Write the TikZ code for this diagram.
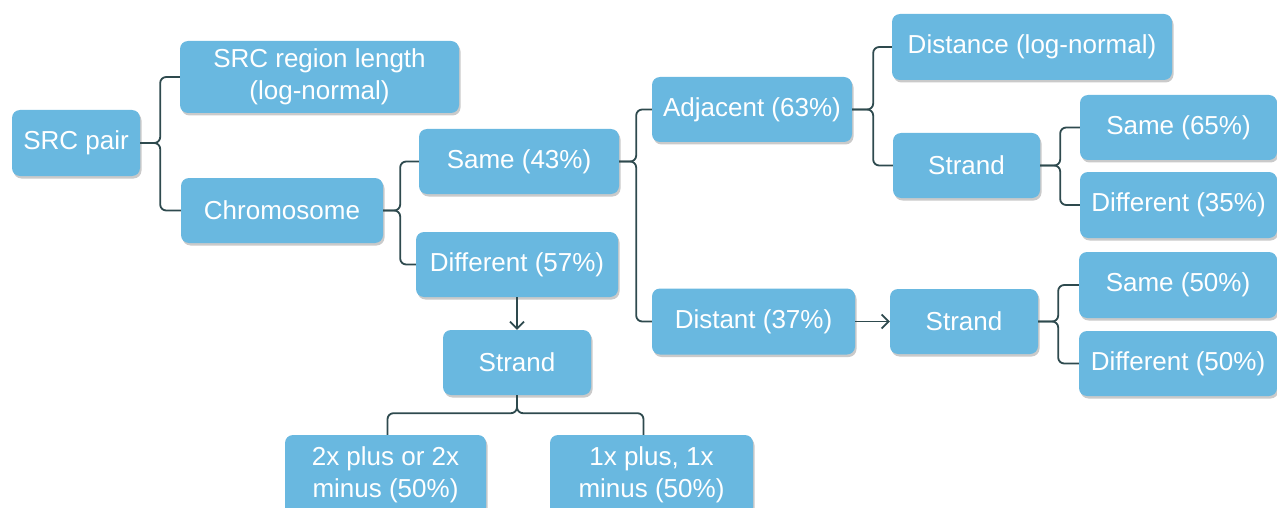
\documentclass[tikz,border=0pt]{standalone}
\usepackage{fontspec}
\setmainfont{Liberation Sans}
\definecolor{BoxBlue}{HTML}{69B8E0}
\definecolor{LineSlate}{HTML}{2E4A4E}
\usepackage{tikz}
\usetikzlibrary{arrows.meta,positioning,shadows}

\begin{document}
\begin{tikzpicture}[x=1pt,y=-1pt,
    box/.style={draw=none,fill=BoxBlue,rounded corners=8pt,text=white,
      align=center,inner sep=0pt,
      font=\fontsize{26}{32}\selectfont,
      drop shadow={shadow xshift=1.5pt,shadow yshift=-2.5pt,opacity=0.35,fill=black!60}},
    branch/.style={draw=LineSlate,line width=1.8pt,rounded corners=6pt},
    link/.style={draw=LineSlate,line width=1.8pt,-{Straight Barb[length=7pt,width=14pt]}}]
  \useasboundingbox (0,0) rectangle (1277,508);
  \clip (0,0) rectangle (1277,508);

  % left part
  \node[box,minimum width=128pt,minimum height=66pt] (src) at (76,143) {SRC pair};
  \node[box,minimum width=279pt,minimum height=72pt] (len) at (319.5,77) {SRC region length\\(log-normal)};
  \node[box,minimum width=202pt,minimum height=65pt] (chrom) at (282,210.5) {Chromosome};
  \node[box,minimum width=200pt,minimum height=65pt] (same) at (519,161.5) {Same (43\%)};
  \node[box,minimum width=202pt,minimum height=65pt] (diff) at (517,264.5) {Different (57\%)};
  \node[box,minimum width=148pt,minimum height=65pt] (strandA) at (517,362.5) {Strand};
  \node[box,minimum width=201pt,minimum height=80pt] (plustwo) at (385.5,475) {2x plus or 2x\\minus (50\%)};
  \node[box,minimum width=203pt,minimum height=80pt] (plusone) at (651.5,475) {1x plus, 1x\\minus (50\%)};

  % same chromosome
  \node[box,minimum width=200pt,minimum height=65pt] (adj) at (752,109.5) {Adjacent (63\%)};
  \node[box,minimum width=203pt,minimum height=66pt] (dist) at (753.5,321.5) {Distant (37\%)};
  \node[box,minimum width=280pt,minimum height=66pt] (distance) at (1032,47) {Distance (log-normal)};
  \node[box,minimum width=147pt,minimum height=65pt] (strandB) at (966.5,165.5) {Strand};
  \node[box,minimum width=148pt,minimum height=65pt] (strandC) at (964,321.5) {Strand};
  \node[box,minimum width=197pt,minimum height=65pt] (samesix) at (1178.5,127.5) {Same (65\%)};
  \node[box,minimum width=197pt,minimum height=66pt] (diffsix) at (1178.5,205) {Different (35\%)};
  \node[box,minimum width=198pt,minimum height=66pt] (samefive) at (1178,285) {Same (50\%)};
  \node[box,minimum width=198pt,minimum height=65pt] (difffive) at (1178,363.5) {Different (50\%)};

  % brace junctions
  \coordinate (jsrc) at ([xshift=20pt]src.east);
  \coordinate (jchrom) at ([xshift=17pt]chrom.east);
  \coordinate (jsame) at ([xshift=17pt]same.east);
  \coordinate (jadj) at ([xshift=21pt]adj.east);
  \coordinate (jstrB) at ([xshift=20pt]strandB.east);
  \coordinate (jstrC) at ([xshift=20pt]strandC.east);
  \coordinate (jstrA) at ([yshift=-18pt]strandA.south);

  \foreach \c in {len,chrom} \draw[branch] (src.east) -| (jsrc |- \c.west) -- (\c.west);
  \foreach \c in {same,diff} \draw[branch] (chrom.east) -| (jchrom |- \c.west) -- (\c.west);
  \foreach \c in {adj,dist} \draw[branch] (same.east) -| (jsame |- \c.west) -- (\c.west);
  \foreach \c in {distance,strandB} \draw[branch] (adj.east) -| (jadj |- \c.west) -- (\c.west);
  \foreach \c in {samesix,diffsix} \draw[branch] (strandB.east) -| (jstrB |- \c.west) -- (\c.west);
  \foreach \c in {samefive,difffive} \draw[branch] (strandC.east) -| (jstrC |- \c.west) -- (\c.west);
  \draw[branch] (strandA.south) |- ([xshift=2pt]jstrA -| plustwo.north) -- ([xshift=2pt]plustwo.north);
  \draw[branch] (strandA.south) |- ([xshift=-8pt]jstrA -| plusone.north) -- ([xshift=-8pt]plusone.north);

  \draw[link] (diff.south) -- (strandA.north);
  \draw[link] (dist.east) -- (strandC.west);
\end{tikzpicture}
\end{document}
